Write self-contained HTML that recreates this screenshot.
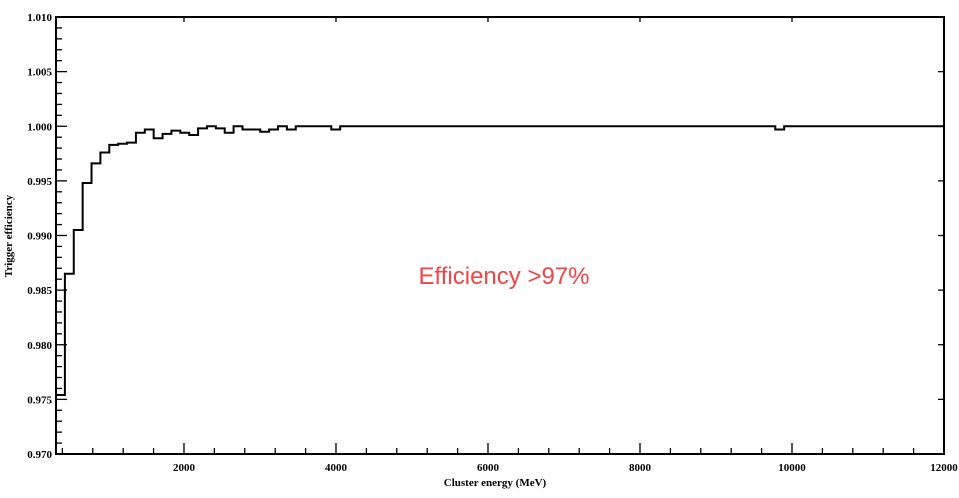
<!DOCTYPE html>
<html><head><meta charset="utf-8"><style>
html,body{margin:0;padding:0;background:#fff;}
svg{display:block;}
.tl{font-family:"Liberation Serif",serif;font-weight:bold;font-size:11px;fill:#000;}
</style></head><body>
<svg id="chart" width="959" height="498" xmlns="http://www.w3.org/2000/svg">
<g id="ticks"></g>
<g id="labels"></g>
<path id="hist" fill="none" stroke="#000" stroke-width="2"/>
<rect x="56" y="17" width="888" height="437" fill="none" stroke="#000" stroke-width="2"/>
<text x="495" y="486" text-anchor="middle" class="tl">Cluster energy (MeV)</text>
<text transform="translate(12,236) rotate(-90)" text-anchor="middle" class="tl">Trigger efficiency</text>
<text x="504" y="284" text-anchor="middle" font-family="Liberation Sans, sans-serif" font-size="24" fill="#f04545">Efficiency &gt;97%</text>
</svg>
<script>
const xTicks = [2000,4000,6000,8000,10000,12000];
const yTicks = [0.970,0.975,0.980,0.985,0.990,0.995,1.000,1.005,1.010];
const binStart = 316;
const binWidth = 116.84;
const earlyValues = [0.9754,0.9865,0.9905,0.9948,0.9966,0.9976,0.9983,0.9984,0.9985,0.9994,0.9997,0.9989,0.9993,0.9996,0.9994,0.9992,0.9998,1.0,0.9998,0.9994,1.0,0.9997,0.9997,0.9995,0.9997,1.0,0.9997,1.0,1.0,1.0,1.0,0.9997];
const dipBin = 81;
const dipValue = 0.9997;
const nBins = 100;

const X0=56,X1=944,Y0=454,Y1=17,xmin=316,xmax=12000,ymin=0.970,ymax=1.010;
function xs(v){return X0+(v-xmin)/(xmax-xmin)*(X1-X0);}
function ys(v){return Y0-(v-ymin)/(ymax-ymin)*(Y0-Y1);}

const values=[];
for(let i=0;i<nBins;i++){values.push(i<earlyValues.length?earlyValues[i]:(i===dipBin?dipValue:1.0));}
let d='';
values.forEach((v,i)=>{const a=xs(binStart+i*binWidth),b=xs(binStart+(i+1)*binWidth),y=ys(v);
 d+=(i===0?'M'+a+','+Y0+' L'+a+','+y:' L'+a+','+y)+' L'+b+','+y;});
document.getElementById('hist').setAttribute('d',d);

const tg=document.getElementById('ticks'),lg=document.getElementById('labels');
const NS='http://www.w3.org/2000/svg';
function line(x1,y1,x2,y2){const l=document.createElementNS(NS,'line');l.setAttribute('x1',x1);l.setAttribute('y1',y1);l.setAttribute('x2',x2);l.setAttribute('y2',y2);l.setAttribute('stroke','#000');l.setAttribute('stroke-width','1.3');


tg.appendChild(l);}
function label(x,y,t,anchor){const e=document.createElementNS(NS,'text');e.setAttribute('x',x);e.setAttribute('y',y);e.setAttribute('text-anchor',anchor);e.setAttribute('class','tl');e.textContent=t;


lg.appendChild(e);}
for(let v=400;v<xmax;v+=400){if(v<xmin)continue;const x=xs(v);const major=v%2000===0;line(x,Y0,x,Y0-(major?11:6));if(major)line(x,Y1,x,Y1+5);}
xTicks.forEach(v=>label(xs(v),Y0+17,String(v),'middle'));
for(let k=0;k<=40;k++){const v=ymin+k*0.001;const y=ys(v);const major=k%5===0;line(X0,y,X0+(major?11:6),y);if(major)line(X1,y,X1-6,y);}
yTicks.forEach(v=>label(X0-4,ys(v)+4,v.toFixed(3),'end'));
</script>
</body></html>
